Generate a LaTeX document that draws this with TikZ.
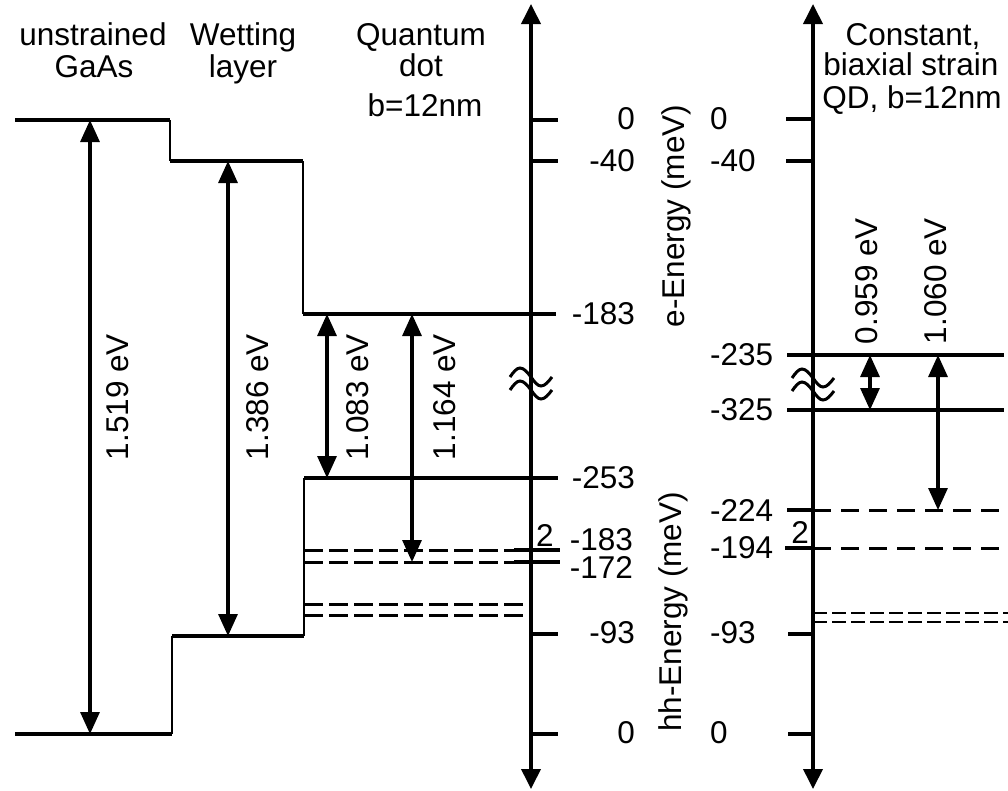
\documentclass[tikz,border=0pt]{standalone}
\usepackage{fontspec}
\setmainfont{Liberation Sans}
\usetikzlibrary{arrows.meta}
\begin{document}
\begin{tikzpicture}[x=1pt,y=-1pt,
  lvl/.style={line width=3.4pt},
  stepln/.style={line width=2.4pt},
  dsh/.style={line width=3pt, dash pattern=on 19pt off 6pt},
  dshr/.style={line width=3pt, dash pattern=on 18pt off 10pt},
  dshs/.style={line width=2.8pt, dash pattern=on 14pt off 5pt},
  gaparrow/.style={line width=3.2pt, {Triangle[length=22pt,width=19pt]}-{Triangle[length=22pt,width=19pt]}},
  axisln/.style={line width=3.8pt, {Triangle[length=20pt,width=19pt]}-{Triangle[length=20pt,width=19pt]}},
  brk/.style={line width=3pt},
  txt/.style={font=\fontsize{31.5}{32}\selectfont, inner sep=0pt},
  hdr/.style={txt, anchor=base},
  lblR/.style={txt, anchor=east},
  lblL/.style={txt, anchor=west},
  rot/.style={txt, rotate=90},
]
\useasboundingbox (0,0) rectangle (1008,790);

% ---------- headers ----------
\node[hdr] (h1a) at (93,45) {unstrained};
\node[hdr] (h1b) at (94,77) {GaAs};
\node[hdr] (h2a) at (243,45) {Wetting};
\node[hdr] (h2b) at (243,77) {layer};
\node[hdr] (h3a) at (421,45) {Quantum};
\node[hdr] (h3b) at (421,76) {dot};
\node[hdr] (h3c) at (425,116) {b=12nm};
\node[hdr] (h4a) at (913,45) {Constant,};
\node[hdr] (h4b) at (911,75) {biaxial strain};
\node[hdr] (h4c) at (912,108) {QD, b=12nm};

% ---------- axes ----------
\coordinate (ax1t) at (531,4);
\coordinate (ax1b) at (531,789);
\coordinate (ax2t) at (813,4);
\coordinate (ax2b) at (813,789);
\draw[axisln] (ax1b) -- (ax1t);
\draw[axisln] (ax2b) -- (ax2t);

% breaks
\draw[brk] (510,377) sin (520,368) cos (531,377) sin (541,386) cos (552,377);
\draw[brk] (510,390) sin (520,381) cos (531,390) sin (541,399) cos (552,390);
\draw[brk] (792,378) sin (802,369) cos (813,378) sin (823,387) cos (834,378);
\draw[brk] (792,391) sin (802,382) cos (813,391) sin (823,400) cos (834,391);

% ---------- left staircase (conduction) ----------
\coordinate (g1) at (15,120);
\coordinate (g2) at (170,120);
\coordinate (g3) at (170,161);
\coordinate (w2) at (303,161);
\coordinate (w3) at (303,314);
\coordinate (q1) at (556,314);
\draw[lvl] (g1) -- (g2);
\draw[stepln] (g2) -- (g3);
\draw[lvl] (g3) -- (w2);
\draw[stepln] (w2) -- (w3);
\draw[lvl] (w3) -- (q1);

% ---------- left staircase (valence) ----------
\coordinate (v1) at (15,734);
\coordinate (v2) at (172,734);
\coordinate (v3) at (172,636);
\coordinate (v4) at (304,636);
\coordinate (v5) at (304,478);
\coordinate (v6) at (558,478);
\draw[lvl] (v1) -- (v2);
\draw[stepln] (v2) -- (v3);
\draw[lvl] (v3) -- (v4);
\draw[stepln] (v4) -- (v5);
\draw[lvl] (v5) -- (v6);

% QD hole levels (dashed)
\coordinate (d1a) at (304,550); \coordinate (d1b) at (531,550); \coordinate (d1c) at (560,550);
\coordinate (d2a) at (304,562); \coordinate (d2b) at (531,562); \coordinate (d2c) at (560,562);
\coordinate (d3a) at (304,604); \coordinate (d3b) at (531,604);
\coordinate (d4a) at (304,615); \coordinate (d4b) at (531,615);
\coordinate (d1s) at (514,550); \coordinate (d2s) at (514,562);
\draw[dsh] (d1a) -- (d1b);
\draw[dsh] (d2a) -- (d2b);
\draw[lvl] (d1s) -- (d1c);
\draw[lvl] (d2s) -- (d2c);
\draw[dsh] (d3a) -- (d3b);
\draw[dsh] (d4a) -- (d4b);

% ticks on axis 1
\coordinate (t1a) at (531,120); \coordinate (t1b) at (558,120);
\coordinate (t2a) at (531,161); \coordinate (t2b) at (558,161);
\coordinate (t3a) at (531,634); \coordinate (t3b) at (558,634);
\coordinate (t4a) at (531,734); \coordinate (t4b) at (558,734);
\draw[lvl] (t1a) -- (t1b);
\draw[lvl] (t2a) -- (t2b);
\draw[lvl] (t3a) -- (t3b);
\draw[lvl] (t4a) -- (t4b);

% gap arrows left
\coordinate (a1t) at (90,120);  \coordinate (a1b) at (90,734);
\coordinate (a2t) at (228,161); \coordinate (a2b) at (228,636);
\coordinate (a3t) at (327,314); \coordinate (a3b) at (327,478);
\coordinate (a4t) at (412,314); \coordinate (a4b) at (412,562);
\draw[gaparrow] (a1t) -- (a1b);
\draw[gaparrow] (a2t) -- (a2b);
\draw[gaparrow] (a3t) -- (a3b);
\draw[gaparrow] (a4t) -- (a4b);
\node[rot] (e1) at (118,397) {1.519 eV};
\node[rot] (e2) at (258,397) {1.386 eV};
\node[rot] (e3) at (358,397) {1.083 eV};
\node[rot] (e4) at (445,397) {1.164 eV};

% labels axis 1
\node[lblR] (l1) at (635,119) {0};
\node[lblR] (l2) at (635,161) {-40};
\node[lblR] (l3) at (635,314) {-183};
\node[lblR] (l4) at (635,478) {-253};
\node[lblR] (l5) at (633,540) {-183};
\node[lblR] (l6) at (633,567) {-172};
\node[lblR] (l7) at (635,633) {-93};
\node[lblR] (l8) at (635,733) {0};
\node[txt] (two1) at (545,535) {2};

\node[rot] (eE) at (676,216) {e-Energy (meV)};
\node[rot] (hE) at (673,612) {hh-Energy (meV)};

% ---------- right panel ----------
\coordinate (r1a) at (787,355); \coordinate (r1b) at (1004,355);
\coordinate (r2a) at (787,410); \coordinate (r2b) at (1004,410);
\draw[lvl] (r1a) -- (r1b);
\draw[lvl] (r2a) -- (r2b);

\coordinate (r3a) at (787,510); \coordinate (r3b) at (813,510); \coordinate (r3c) at (1008,510);
\coordinate (r4a) at (785,548); \coordinate (r4b) at (813,548); \coordinate (r4c) at (1008,548);
\draw[lvl] (r3a) -- (r3b);
\draw[lvl] (r4a) -- (r4b);
\draw[dshr] (r3b) -- (r3c);
\draw[dshr] (r4b) -- (r4c);

\coordinate (r5a) at (813,613); \coordinate (r5b) at (1008,613);
\coordinate (r6a) at (813,622); \coordinate (r6b) at (1008,622);
\draw[dshs] (r5a) -- (r5b);
\draw[dshs] (r6a) -- (r6b);

% ticks on axis 2
\coordinate (s1a) at (786,119); \coordinate (s1b) at (813,119);
\coordinate (s2a) at (786,161); \coordinate (s2b) at (813,161);
\coordinate (s3a) at (788,634); \coordinate (s3b) at (813,634);
\coordinate (s4a) at (788,734); \coordinate (s4b) at (813,734);
\draw[lvl] (s1a) -- (s1b);
\draw[lvl] (s2a) -- (s2b);
\draw[lvl] (s3a) -- (s3b);
\draw[lvl] (s4a) -- (s4b);

% gap arrows right
\coordinate (b1t) at (870,355); \coordinate (b1b) at (870,410);
\coordinate (b2t) at (938,355); \coordinate (b2b) at (938,510);
\draw[gaparrow] (b1t) -- (b1b);
\draw[gaparrow] (b2t) -- (b2b);
\node[rot] (f1) at (867,281) {0.959 eV};
\node[rot] (f2) at (936,281) {1.060 eV};

% labels axis 2
\node[lblL] (m1) at (710,119) {0};
\node[lblL] (m2) at (710,161) {-40};
\node[lblL] (m3) at (710,355) {-235};
\node[lblL] (m4) at (710,410) {-325};
\node[lblL] (m5) at (710,510) {-224};
\node[lblL] (m6) at (710,548) {-194};
\node[lblL] (m7) at (710,633) {-93};
\node[lblL] (m8) at (710,733) {0};
\node[txt] (two2) at (800,532) {2};
\end{tikzpicture}
\end{document}
